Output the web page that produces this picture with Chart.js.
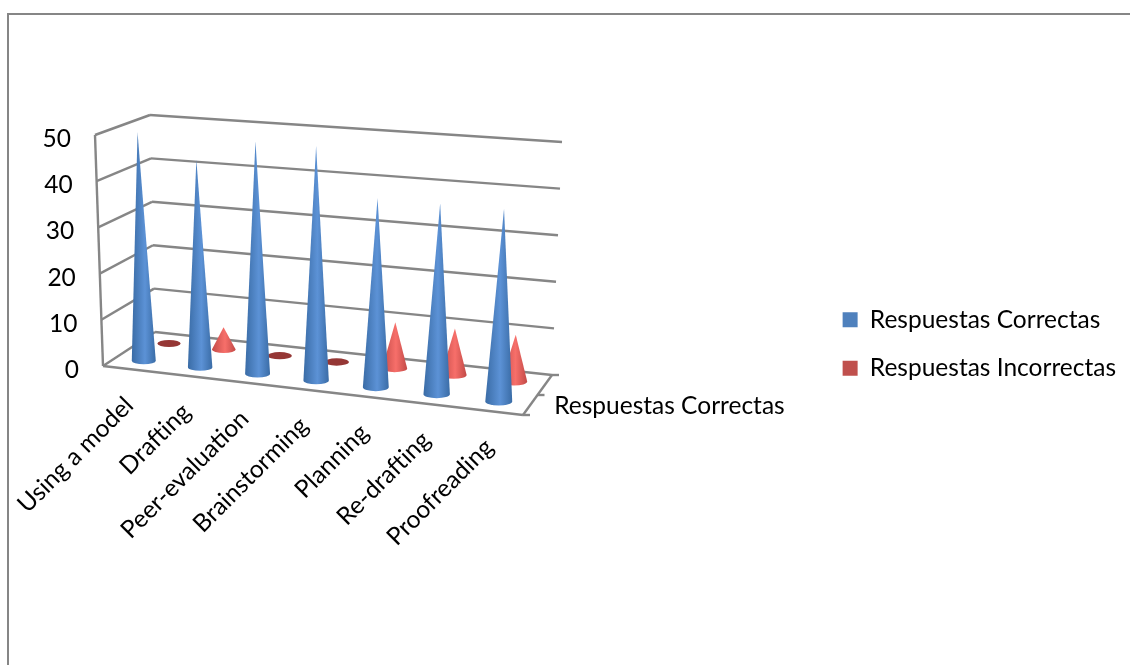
<!DOCTYPE html>
<html>
<head>
<meta charset="utf-8">
<title>Respuestas</title>
<script src="https://cdn.jsdelivr.net/npm/chart.js@4"></script>
<style>
  html, body { margin: 0; padding: 0; background: #fff; }
  #wrap { width: 1130px; height: 665px; }
</style>
</head>
<body>
<div id="wrap"><canvas id="grafico" width="1130" height="665"></canvas></div>
<script>
// Datos
const categorias = ['Using a model', 'Drafting', 'Peer-evaluation', 'Brainstorming', 'Planning', 'Re-drafting', 'Proofreading'];
const correctas = [50, 45, 50, 50, 40, 40, 40];
const incorrectas = [0, 5, 0, 0, 10, 10, 10];
const nombreCorrectas = 'Respuestas Correctas';
const nombreIncorrectas = 'Respuestas Incorrectas';

const fuente = 'Lato, "Open Sans", sans-serif';
const tamano = 24.5;
const gris = '#868686';

// Esquinas de la caja 3D en pantalla: f/b frente-fondo, l/r izquierda-derecha, b/t abajo-arriba
const caja = {
  flb: [103, 366], frb: [523, 415], blb: [155, 332], brb: [552, 375],
  flt: [95, 135], frt: [530, 170], blt: [150, 115], brt: [562, 142]
};

function mezcla(a, b, t) {
  return [a[0] + (b[0] - a[0]) * t, a[1] + (b[1] - a[1]) * t];
}

// u: categoria, v: valor, w: profundidad, todos de 0 a 1
function proyecta(u, v, w) {
  const up = u / (u + (1 - u) * 1.07);
  const fb = mezcla(caja.flb, caja.frb, up);
  const bb = mezcla(caja.blb, caja.brb, up);
  const ft = mezcla(caja.flt, caja.frt, up);
  const bt = mezcla(caja.blt, caja.brt, up);
  return mezcla(mezcla(fb, bb, w), mezcla(ft, bt, w), v);
}

function linea(ctx, a, b) {
  ctx.beginPath();
  ctx.moveTo(a[0], a[1]);
  ctx.lineTo(b[0], b[1]);
  ctx.stroke();
}

function cono(ctx, el, chart, w, oscuro, claro, plano) {
  const xs = chart.scales.x;
  const ys = chart.scales.y;
  const u = xs.getDecimalForPixel(el.x);
  const v = ys.getDecimalForPixel(el.y);
  const du = el.width / 2 / xs.width;
  const base = proyecta(u, 0, w);
  const punta = proyecta(u, v, w);
  const rx = (proyecta(u + du, 0, w)[0] - proyecta(u - du, 0, w)[0]) / 2;
  const ry = rx * 0.3;

  if (v === 0) {
    ctx.fillStyle = plano;
    ctx.beginPath();
    ctx.ellipse(base[0], base[1], rx, ry, 0, 0, Math.PI * 2);
    ctx.fill();
    return;
  }
  const g = ctx.createLinearGradient(base[0] - rx, 0, base[0] + rx, 0);
  g.addColorStop(0, oscuro);
  g.addColorStop(0.55, claro);
  g.addColorStop(1, oscuro);
  ctx.fillStyle = g;
  ctx.beginPath();
  ctx.moveTo(punta[0], punta[1]);
  ctx.lineTo(base[0] - rx, base[1]);
  ctx.ellipse(base[0], base[1], rx, ry, 0, Math.PI, 0, true);
  ctx.closePath();
  ctx.fill();
}

// Paredes, conos y textos proyectados
const caja3d = {
  id: 'caja3d',
  beforeDatasetsDraw(chart) {
    const ctx = chart.ctx;
    const ys = chart.scales.y;
    const xs = chart.scales.x;
    const nivel = valor => ys.getDecimalForPixel(ys.getPixelForValue(valor));
    ctx.save();

    // marco de la imagen
    ctx.strokeStyle = gris;
    ctx.lineWidth = 2;
    ctx.beginPath();
    ctx.moveTo(8, 665);
    ctx.lineTo(8, 14);
    ctx.lineTo(1130, 14);
    ctx.stroke();

    // lineas de cuadricula
    ctx.lineWidth = 2.4;
    ys.ticks.forEach(t => {
      const v = nivel(t.value);
      linea(ctx, proyecta(0, v, 0), proyecta(0, v, 1));
      linea(ctx, proyecta(0, v, 1), proyecta(1, v, 1));
    });
    linea(ctx, proyecta(0, 0, 0), proyecta(0, 1, 0));
    linea(ctx, proyecta(0, 0, 0), proyecta(1, 0, 0));
    linea(ctx, proyecta(1, 0, 0), proyecta(1, 0, 1));
    [0, 0.5, 1].forEach(w => {
      const p = proyecta(1, 0, w);
      linea(ctx, p, [p[0] + 7, p[1]]);
    });

    // primero la serie del fondo
    chart.getDatasetMeta(1).data.forEach(el => {
      cono(ctx, el, chart, 0.75, '#c24a47', '#f76f6a', '#953735');
    });
    chart.getDatasetMeta(0).data.forEach(el => {
      cono(ctx, el, chart, 0.25, '#3a6ca6', '#5c92d6', '#1f497d');
    });

    // textos de los ejes
    ctx.fillStyle = '#000';
    ctx.font = tamano + 'px ' + fuente;
    ctx.textBaseline = 'middle';
    ctx.textAlign = 'right';
    ys.ticks.forEach(t => {
      const p = proyecta(0, nivel(t.value), 0);
      ctx.fillText(t.label, p[0] - 24, p[1] + 4);
    });
    categorias.forEach((c, i) => {
      const p = proyecta(xs.getDecimalForPixel(xs.getPixelForValue(i)), 0, 0);
      ctx.save();
      ctx.translate(p[0] - 2, p[1] + 32);
      ctx.rotate(-Math.PI / 4);
      ctx.fillText(c, 0, 0);
      ctx.restore();
    });
    const d = proyecta(1, 0, 0.25);
    ctx.textAlign = 'left';
    ctx.fillText(nombreCorrectas, d[0] + 24, d[1] + 1);

    ctx.restore();
    return false;
  }
};

new Chart(document.getElementById('grafico'), {
  type: 'bar',
  data: {
    labels: categorias,
    datasets: [
      { label: nombreCorrectas, data: correctas, backgroundColor: '#4f81bd', grouped: false },
      { label: nombreIncorrectas, data: incorrectas, backgroundColor: '#c0504d', grouped: false }
    ]
  },
  options: {
    responsive: false,
    animation: false,
    barPercentage: 0.43,
    categoryPercentage: 1,
    layout: { padding: { left: 100, right: 4, top: 137, bottom: 114 } },
    plugins: {
      title: { display: false },
      tooltip: { enabled: false },
      legend: {
        position: 'right',
        labels: {
          color: '#000',
          boxWidth: 15,
          boxHeight: 15,
          padding: 24,
          font: { family: fuente, size: tamano }
        }
      }
    },
    scales: {
      x: { display: false },
      y: { display: false, min: 0, max: 50, ticks: { stepSize: 10 } }
    }
  },
  plugins: [caja3d]
});
</script>
</body>
</html>
